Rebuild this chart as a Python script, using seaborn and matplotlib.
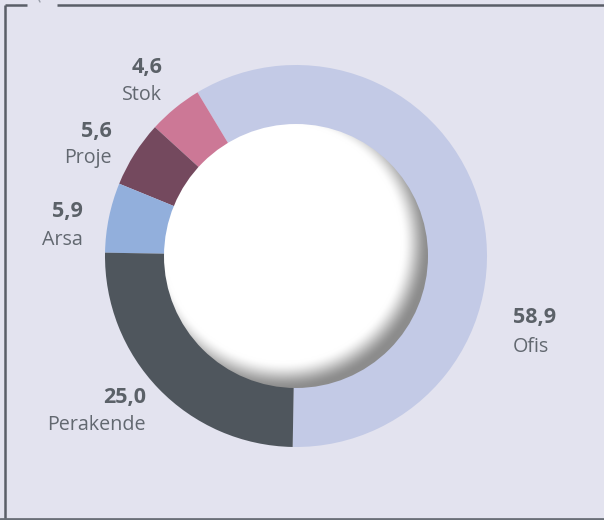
import numpy as np
import matplotlib
matplotlib.use("Agg")
import matplotlib.pyplot as plt
import seaborn as sns
from matplotlib.patches import Circle

# Veriler
kategoriler = ["Ofis", "Stok", "Proje", "Arsa", "Perakende"]
degerler = [58.9, 4.6, 5.6, 5.9, 25.0]
renkler = ["#c3cae6", "#cc7896", "#74495e", "#92afdc", "#4f565d"]
etiketler = ["58,9", "4,6", "5,6", "5,9", "25,0"]

bg = "#e3e3ef"
yazi_renk = "#5b6168"

sns.set_style("white", {"axes.facecolor": bg, "figure.facecolor": bg})
plt.rcParams["font.family"] = ["Open Sans", "DejaVu Sans"]

fig = plt.figure(figsize=(6.04, 5.2), dpi=100)
ax = fig.add_axes([0, 0, 1, 1])

cx, cy, R = 296, 264, 191
r_ic = 132

ax.pie(degerler, colors=renkler, startangle=-91, counterclock=True,
       center=(cx, cy), radius=R, frame=True,
       wedgeprops=dict(linewidth=0))
ax.set_xlim(0, 604)
ax.set_ylim(0, 520)
ax.set_aspect("equal")
ax.axis("off")

# çerçeve
cer = dict(color="#5a5f68", lw=1.8, solid_capstyle="butt")
ax.plot([5, 5], [0, 515], **cer)
ax.plot([5, 27], [515, 515], **cer)
ax.plot([57, 604], [515, 515], **cer)
ax.plot([0, 604], [1, 1], color="#6a6f78", lw=2)
ax.plot([39, 40], [520, 518], color="#9a9faa", lw=1)

# iç beyaz daire (gölgeli)
n = 400
xs = np.linspace(cx - r_ic, cx + r_ic, n)
ys = np.linspace(cy - r_ic, cy + r_ic, n)
X, Y = np.meshgrid(xs, ys)
d = np.hypot(X - (cx - 0.1 * r_ic), Y - (cy + 0.1 * r_ic)) / r_ic
t = np.clip((d - 0.9) / (1.11 - 0.9), 0, 1)
t = t * t * (3 - 2 * t)
shade = 1 - 0.45 * t
img = np.dstack([shade, shade, shade])
im = ax.imshow(img, extent=(cx - r_ic, cx + r_ic, cy - r_ic, cy + r_ic),
               origin="lower", zorder=3, interpolation="bilinear")
clip = Circle((cx, cy), r_ic, transform=ax.transData)
im.set_clip_path(clip)
ax.set_xlim(0, 604)
ax.set_ylim(0, 520)

# etiketler (piksel konumları -> y yukarı)
konum = {
    "Ofis": (513, 317, 347, "left"),
    "Stok": (162, 67, 95, "right"),
    "Proje": (112, 132, 158, "right"),
    "Arsa": (83, 212, 240, "right"),
    "Perakende": (146, 397, 425, "right"),
}
for kat, et in zip(kategoriler, etiketler):
    x, y1, y2, ha = konum[kat]
    ax.text(x, 520 - y1, et, ha=ha, va="center", fontsize=15.5,
            fontweight="bold", color=yazi_renk)
    ax.text(x, 520 - y2, kat, ha=ha, va="center", fontsize=14.2,
            color="#626870")

fig.savefig("out.png", dpi=100, facecolor=bg)
